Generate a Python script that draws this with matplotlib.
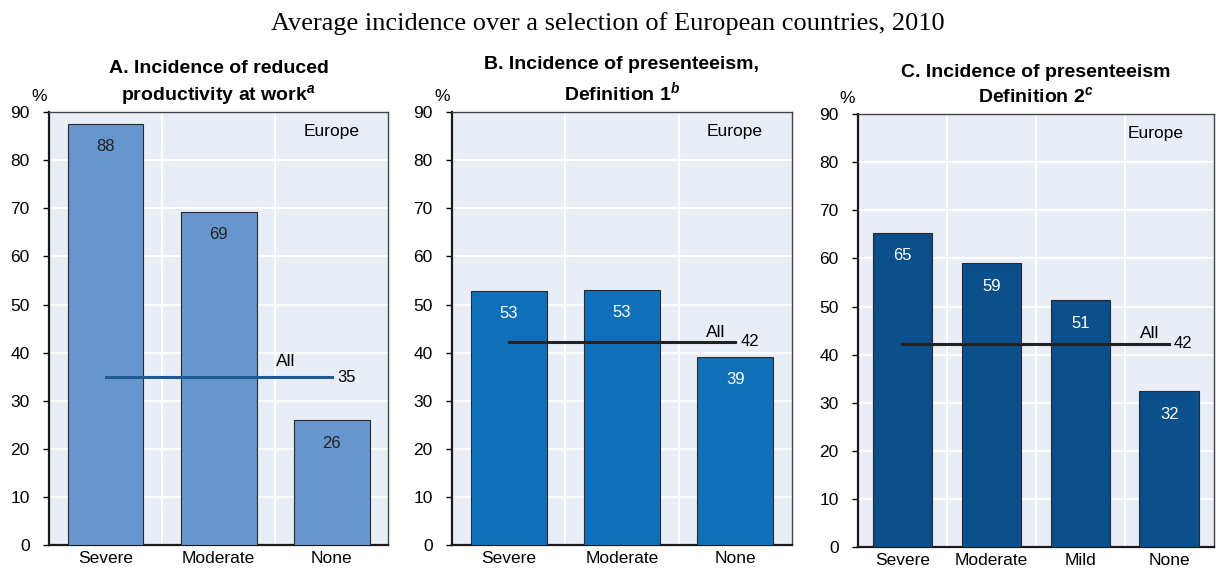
import matplotlib
matplotlib.use('Agg')
import matplotlib.pyplot as plt
import numpy as np

# Dữ liệu
cats_a = ['Severe', 'Moderate', 'None']
vals_a = [87.6, 69.3, 25.9]
all_a = 34.9

cats_b = ['Severe', 'Moderate', 'None']
vals_b = [52.9, 53.1, 39.2]
all_b = 42.3

cats_c = ['Severe', 'Moderate', 'Mild', 'None']
vals_c = [65.4, 59.0, 51.3, 32.4]
all_c = 42.3

titles = ['A. Incidence of reduced\nproductivity at work$^{\\bfit{a}}$',
          'B. Incidence of presenteeism,\nDefinition 1$^{\\bfit{b}}$',
          'C. Incidence of presenteeism\nDefinition 2$^{\\bfit{c}}$']

plt.rcParams['font.family'] = ['Liberation Sans', 'DejaVu Sans']
plt.rcParams['mathtext.fontset'] = 'custom'
plt.rcParams['mathtext.bfit'] = 'Liberation Sans:bold:italic'

fig = plt.figure(figsize=(12.16, 5.71), dpi=100)
fig.text(0.5, 0.958, 'Average incidence over a selection of European countries, 2010',
         ha='center', va='center', fontsize=19, family='Liberation Serif')

# (categories, values, avg, bar colour, label colour, line colour, "All" offset, axes pos)
panels = [
    (cats_a, vals_a, all_a, '#6795cd', '#222222', '#1f5a96', 0.41, 3.2, [0.0403, 0.0455, 0.279, 0.758]),
    (cats_b, vals_b, all_b, '#0f6fb9', 'white', '#222222', 0.17, 1.8, [0.3717, 0.0455, 0.2796, 0.758]),
    (cats_c, vals_c, all_c, '#0b4f8d', 'white', '#222222', 0.22, 2.0, [0.7056, 0.042, 0.2925, 0.758]),
]

for i, (cats, vals, avg, bar_col, lab_col, line_col, dx_all, dy_all, pos) in enumerate(panels):
    ax = fig.add_axes(pos)
    ax.set_facecolor('#e8edf6')
    x = np.arange(len(cats))
    ax.bar(x, vals, width=0.67, color=bar_col, edgecolor='#2a2a2a', linewidth=0.8, zorder=3)
    for xi, v in zip(x, vals):
        ax.text(xi, v - 4.8, f'{round(v)}', ha='center', va='center',
                color=lab_col, fontsize=12, zorder=4)
    # đường trung bình "All"
    ax.plot([x[0], x[-1]], [avg, avg], color=line_col, linewidth=2.2, zorder=5)
    ax.text(x[-1] - dx_all, avg + dy_all, 'All', ha='center', va='center', fontsize=12.5, zorder=5)
    ax.text(x[-1] + 0.05, avg, f'{round(avg)}', ha='left', va='center', fontsize=12, zorder=5)
    ax.text(0.915, 0.955, 'Europe', transform=ax.transAxes, ha='right', va='center', fontsize=12.5)

    ax.set_xlim(-0.5, len(cats) - 0.5)
    ax.set_ylim(0, 90)
    ax.set_yticks(range(0, 91, 10))
    ax.set_xticks(x)
    ax.set_xticklabels(cats, fontsize=12.5)
    ax.set_xticks(np.arange(0.5, len(cats) - 1, 1), minor=True)
    ax.tick_params(axis='y', labelsize=12.5, length=4, width=1, direction='out', pad=10)
    ax.tick_params(axis='x', which='both', length=0, pad=4)
    ax.grid(axis='y', color='white', linewidth=1.5, zorder=1)
    ax.grid(axis='x', which='minor', color='white', linewidth=1.5, zorder=1)
    ax.set_axisbelow(True)
    for s in ['top', 'right']:
        ax.spines[s].set_color('#444444')
        ax.spines[s].set_linewidth(1.0)
    for s in ['left', 'bottom']:
        ax.spines[s].set_color('#1a1a1a')
        ax.spines[s].set_linewidth(1.6)
    ax.text(-0.03, 1.02, '%', transform=ax.transAxes, ha='center', va='bottom', fontsize=12.5)
    ax.set_title(titles[i], fontsize=14, fontweight='bold', pad=8, linespacing=1.35)

plt.savefig('out.png', dpi=100)
